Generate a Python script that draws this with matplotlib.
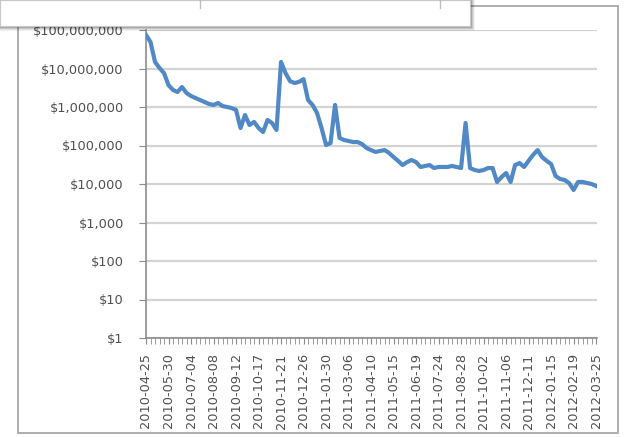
import numpy as np
import pandas as pd
import matplotlib
matplotlib.use("Agg")
import matplotlib.pyplot as plt
from matplotlib.patches import Rectangle
from matplotlib.ticker import FixedLocator, FuncFormatter

# weekly values (USD, log axis)
values = [
    7.4e7, 4.9e7, 1.48e7, 1.03e7, 7.6e6, 3.7e6, 2.77e6, 2.45e6, 3.3e6, 2.31e6,
    1.93e6, 1.71e6, 1.52e6, 1.35e6, 1.20e6, 1.13e6, 1.27e6, 1.06e6, 1.0e6, 9.4e5,
    8.4e5, 2.85e5, 6.2e5, 3.4e5, 4.1e5, 2.85e5, 2.24e5, 4.6e5, 3.84e5, 2.53e5,
    1.48e7, 7.6e6, 4.7e6, 4.2e6, 4.5e6, 5.3e6, 1.52e6, 1.13e6, 7.0e5, 2.85e5,
    1.03e5, 1.16e5, 1.13e6, 1.57e5, 1.39e5, 1.31e5, 1.23e5, 1.23e5, 1.09e5, 8.6e4,
    7.6e4, 6.8e4, 7.2e4, 7.6e4, 6.4e4, 5.0e4, 4.0e4, 3.1e4, 3.7e4, 4.2e4,
    3.7e4, 2.77e4, 2.94e4, 3.1e4, 2.6e4, 2.77e4, 2.77e4, 2.77e4, 2.94e4, 2.77e4,
    2.6e4, 3.84e5, 2.6e4, 2.31e4, 2.18e4, 2.31e4, 2.6e4, 2.6e4, 1.13e4, 1.52e4,
    1.93e4, 1.13e4, 3.1e4, 3.5e4, 2.77e4, 4.0e4, 5.7e4, 7.6e4, 5.0e4, 4.0e4,
    3.3e4, 1.61e4, 1.35e4, 1.27e4, 1.06e4, 7.0e3, 1.13e4, 1.13e4, 1.06e4, 1.0e4,
    8.9e3,
]
dates = pd.date_range("2010-04-25", periods=len(values), freq="7D")
tick_labels = [d.strftime("%Y-%m-%d") for d in dates[::5]]
y_ticks = [1, 10, 100, 1e3, 1e4, 1e5, 1e6, 1e7, 1e8]

W, H = 625, 437
fig = plt.figure(figsize=(W / 100, H / 100), dpi=100, facecolor="white")

def fx(x):
    return x / W

def fy(y):
    return 1 - y / H

# chart frame
frame = Rectangle((fx(18), fy(433)), fx(600), 427 / H, transform=fig.transFigure,
                  facecolor="white", edgecolor="#a8a8a8", lw=1.3, zorder=-5)
fig.patches.append(frame)

ax = fig.add_axes([fx(146), fy(338), fx(451), (338 - 30) / H])
ax.set_facecolor("none")
x = np.arange(len(values))
ax.plot(x, values, color="#5089c6", lw=3.0, solid_joinstyle="round", zorder=3)

ax.set_yscale("log")
ax.set_ylim(1, 1e8)
ax.set_xlim(0, 100.2)
ax.yaxis.set_major_locator(FixedLocator(y_ticks))
ax.yaxis.set_minor_locator(FixedLocator([]))
ax.yaxis.set_major_formatter(FuncFormatter(lambda v, p: "${:,.0f}".format(v)))
ax.grid(axis="y", color="#d4d4d4", lw=1.6)
ax.set_axisbelow(True)

ax.set_xticks(x[::5])
ax.set_xticklabels(tick_labels, rotation=90)
ax.set_xticks(x, minor=True)

for s in ["top", "right"]:
    ax.spines[s].set_visible(False)
for s in ["left", "bottom"]:
    ax.spines[s].set_color("#8c8c8c")
    ax.spines[s].set_linewidth(1.2)

ax.tick_params(axis="y", length=5, color="#8c8c8c", pad=11, labelsize=9.3,
               labelcolor="#505050")
ax.tick_params(axis="x", which="both", length=4, color="#8c8c8c", pad=7,
               labelsize=9.3, labelcolor="#505050")

# overlapping window at the top left, with a soft shadow
for k, a in enumerate([0.05, 0.08, 0.11, 0.15, 0.2]):
    off = 5 - k
    sh = Rectangle((fx(0), fy(26 + off)), fx(470 + off), (26 + off) / H,
                   transform=fig.transFigure, facecolor="#000000", alpha=a,
                   edgecolor="none", zorder=10)
    fig.patches.append(sh)
box = Rectangle((fx(0), fy(26)), fx(470), 26 / H, transform=fig.transFigure,
                facecolor="white", edgecolor="#c8c8c8", lw=0.8, zorder=11)
fig.patches.append(box)
for xv in [200, 440]:
    fig.add_artist(plt.Line2D([fx(xv), fx(xv)], [fy(0), fy(8)],
                              transform=fig.transFigure, color="#bdbdbd",
                              lw=1.0, zorder=12))

fig.savefig("out.png", dpi=100, facecolor="white")
